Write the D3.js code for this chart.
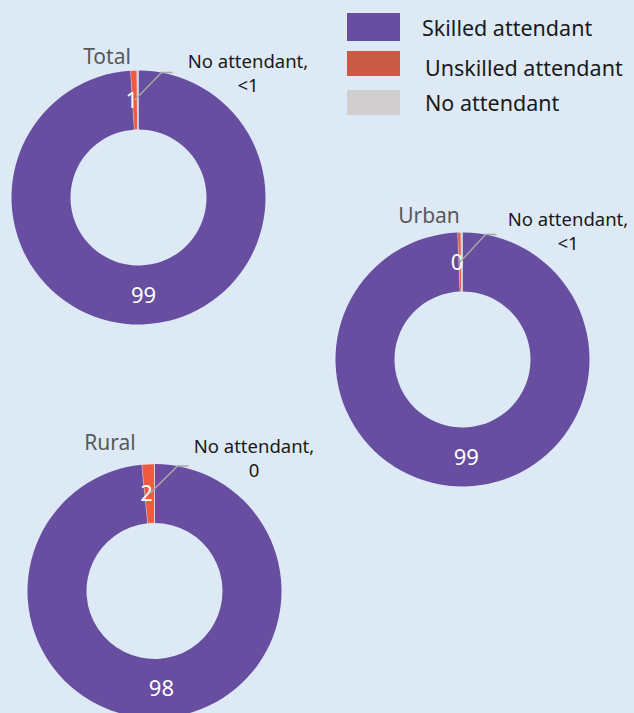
<!DOCTYPE html>
<html>
<head>
<meta charset="utf-8">
<script src="https://cdn.jsdelivr.net/npm/d3@7"></script>
<style>
  body { margin: 0; background: #dde9f5; }
  svg text { font-family: "Noto Sans", "DejaVu Sans", sans-serif; }
</style>
</head>
<body>
<svg id="chart" width="634" height="713"></svg>
<script>
// categories and colours of the legend
var categories = ["Skilled attendant", "Unskilled attendant", "No attendant"];
var colors = ["#674ea0", "#f05a40", "#d0cece"];
var legendColors = ["#674ea0", "#c95a45", "#d0cece"];

// percentages per donut
var groups = ["Total", "Urban", "Rural"];
var totalValues = [99.0, 0.8, 0.2];
var urbanValues = [99.4, 0.4, 0.2];
var ruralValues = [98.4, 1.6, 0.0];

// printed labels
var totalLabels = ["99", "1", "<1"];
var urbanLabels = ["99", "0", "<1"];
var ruralLabels = ["98", "2", "0"];

var svg = d3.select("#chart");

// layout of each donut (centre and label positions)
var layout = [
  { values: totalValues, labels: totalLabels, cx: 138.5, cy: 197.5, title: [107, 57], note: [248, 62] },
  { values: urbanValues, labels: urbanLabels, cx: 462.5, cy: 359.5, title: [429, 216], note: [568, 220] },
  { values: ruralValues, labels: ruralLabels, cx: 154.5, cy: 591, title: [110, 443], note: [254, 447] }
];

var outerR = 127, innerR = 68;
var pie = d3.pie().sort(null).value(function (d) { return d; });
var arc = d3.arc().innerRadius(innerR).outerRadius(outerR);
var labelArc = d3.arc().innerRadius((innerR + outerR) / 2).outerRadius((innerR + outerR) / 2);

layout.forEach(function (g, gi) {
  var grp = svg.append("g").attr("transform", "translate(" + g.cx + "," + g.cy + ")");
  var arcs = pie(g.values);

  grp.selectAll("path")
    .data(arcs)
    .enter()
    .append("path")
    .attr("d", arc)
    .attr("fill", function (d, i) { return colors[i]; })
    .attr("stroke", function (d, i) { return i === 0 ? "none" : "#dde9f5"; })
    .attr("stroke-width", 0.4);

  // white value labels for skilled and unskilled
  [0, 1].forEach(function (i) {
    var c = labelArc.centroid(arcs[i]);
    grp.append("text")
      .attr("x", c[0] + (i === 1 ? -3 : 2))
      .attr("y", c[1])
      .attr("dy", "0.35em")
      .attr("text-anchor", "middle")
      .attr("fill", "#ffffff")
      .attr("font-size", 22)
      .text(g.labels[i]);
  });

  // leader line for "No attendant"
  var c1 = labelArc.centroid(arcs[1]);
  var topY = -outerR + 2;
  svg.append("polyline")
    .attr("points", [
      [g.cx + c1[0], g.cy + c1[1]],
      [g.cx + 23, g.cy + topY],
      [g.cx + 34, g.cy + topY]
    ].map(function (p) { return p.join(","); }).join(" "))
    .attr("fill", "none")
    .attr("stroke", "#a6a6a6")
    .attr("stroke-width", 1.5);

  var note = svg.append("text")
    .attr("text-anchor", "middle")
    .attr("fill", "#1a1a1a")
    .attr("font-size", 18.5);
  note.append("tspan").attr("x", g.note[0]).attr("y", g.note[1]).attr("dy", "0.35em").text(categories[2] + ",");
  note.append("tspan").attr("x", g.note[0]).attr("y", g.note[1] + 24).attr("dy", "0.35em").text(g.labels[2]);

  svg.append("text")
    .attr("x", g.title[0])
    .attr("y", g.title[1])
    .attr("dy", "0.35em")
    .attr("text-anchor", "middle")
    .attr("fill", "#595959")
    .attr("font-size", 21)
    .text(groups[gi]);
});

// legend
var legendY = [27, 63.5, 102.5];
var legendH = [28, 25, 25];
var legend = svg.append("g");
categories.forEach(function (c, i) {
  legend.append("rect")
    .attr("x", 347).attr("y", legendY[i] - legendH[i] / 2)
    .attr("width", 53).attr("height", legendH[i])
    .attr("fill", legendColors[i]);
  legend.append("text")
    .attr("x", i === 0 ? 422 : 425)
    .attr("y", i === 0 ? 28 : (i === 1 ? 68 : 103))
    .attr("dy", "0.35em")
    .attr("fill", "#1a1a1a")
    .attr("font-size", 21.5)
    .text(c);
});
</script>
</body>
</html>
